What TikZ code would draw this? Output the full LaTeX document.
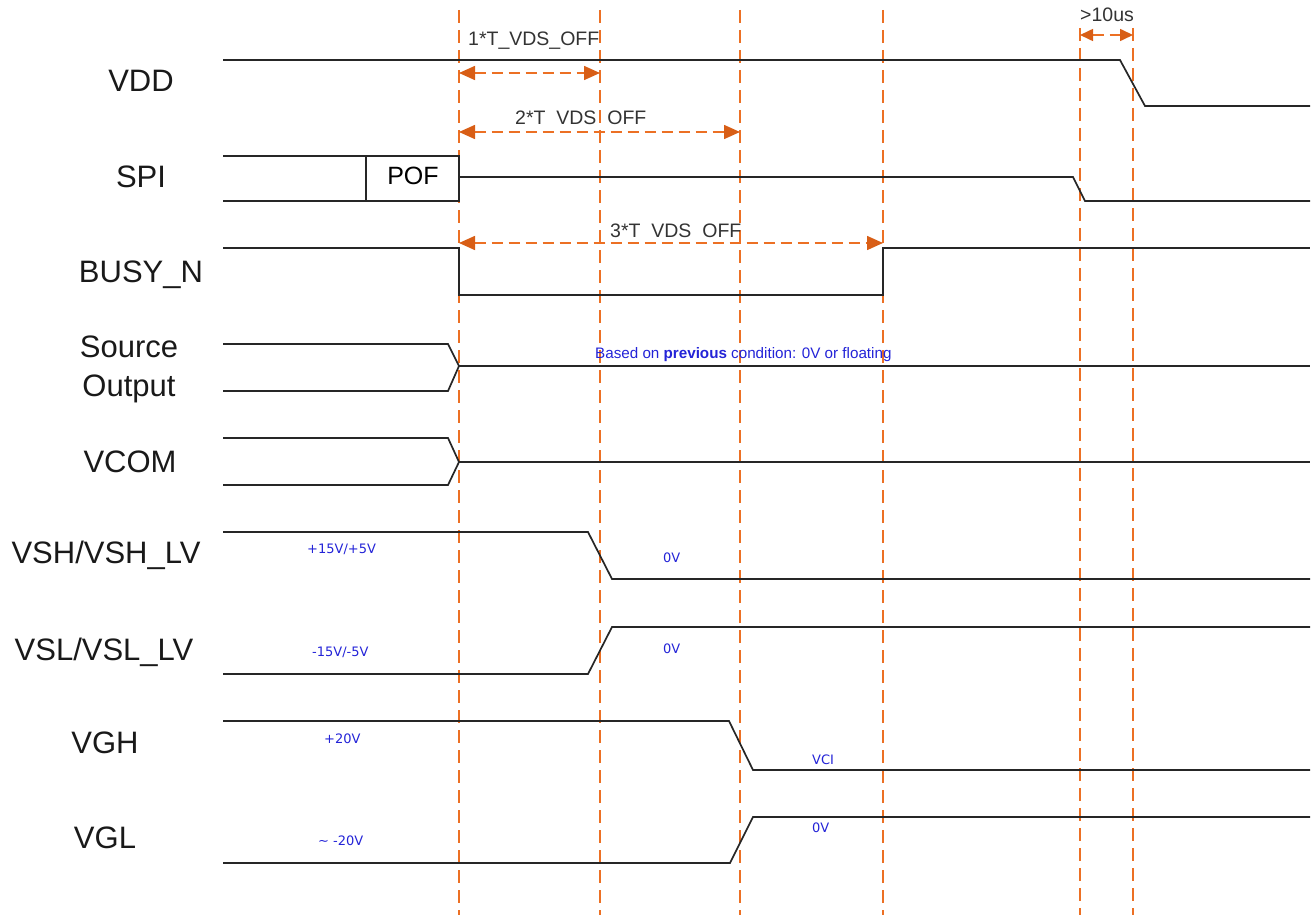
\documentclass[tikz,border=0pt]{standalone}
\usepackage{fontspec}
\setmainfont{Liberation Sans}
\newfontfamily\dvfont{DejaVu Sans}
\usetikzlibrary{arrows.meta}
\definecolor{org}{RGB}{236,112,36}
\definecolor{orgdk}{RGB}{216,94,22}
\definecolor{lblue}{RGB}{35,35,215}
\begin{document}
\begin{tikzpicture}[x=1pt,y=-1pt,
  sig/.style={line width=1.7pt, black!85},
  guide/.style={org, line width=1.6pt, dash pattern=on 13pt off 7pt},
  dim/.style={org, line width=1.6pt, dash pattern=on 11pt off 6pt,
     {Triangle[length=16pt,width=14pt,color=orgdk]}-{Triangle[length=16pt,width=14pt,color=orgdk]}},
  sname/.style={font=\fontsize{31}{31}\selectfont, anchor=base, inner sep=0, text=black!90},
  tlabel/.style={font=\fontsize{19.5}{20}\selectfont, text=black!80, anchor=base west, inner sep=0},
  volt/.style={font=\dvfont\fontsize{13}{13}\selectfont, text=lblue, anchor=base west, inner sep=0}]

\useasboundingbox (0,0) rectangle (1315,915);

% vertical dashed guides
\coordinate (aT) at (459,10);  \coordinate (aB) at (459,915);
\coordinate (bT) at (600,10);  \coordinate (bB) at (600,915);
\coordinate (cT) at (740,10);  \coordinate (cB) at (740,915);
\coordinate (dT) at (883,10);  \coordinate (dB) at (883,915);
\coordinate (eT) at (1080,28); \coordinate (eB) at (1080,915);
\coordinate (fT) at (1133,28); \coordinate (fB) at (1133,915);
\draw[guide] (aT) -- (aB);
\draw[guide] (bT) -- (bB);
\draw[guide] (cT) -- (cB);
\draw[guide] (dT) -- (dB);
\draw[guide] (eT) -- (eB);
\draw[guide] (fT) -- (fB);

% dimension arrow ends
\coordinate (d1a) at (459,73);  \coordinate (d1b) at (600,73);
\coordinate (d2a) at (459,132); \coordinate (d2b) at (740,132);
\coordinate (d3a) at (459,243); \coordinate (d3b) at (883,243);
\coordinate (d4a) at (1080,35); \coordinate (d4b) at (1133,35);
\draw[dim] (d1a) -- (d1b);
\draw[dim] (d2a) -- (d2b);
\draw[dim] (d3a) -- (d3b);
\draw[dim, {Triangle[length=13pt,width=12pt,color=orgdk]}-{Triangle[length=13pt,width=12pt,color=orgdk]}] (d4a) -- (d4b);

\node[tlabel] (t1) at (468,46) {1*T\_VDS\_OFF};
\node[tlabel] (t2) at (515,125) {2*T \kern0.28em VDS \kern0.28em OFF};
\node[tlabel] (t3) at (610,237) {3*T \kern0.28em VDS \kern0.28em OFF};
\node[tlabel] (t4) at (1080,22) {>10us};

% signal names
\node[sname] (nVDD) at (141,92) {VDD};
\node[sname] (nSPI) at (141,187) {SPI};
\node[sname] (nBUSY) at (141,282) {BUSY\_N};
\node[sname] (nSrc) at (129,357) {Source};
\node[sname] (nOut) at (129,396) {Output};
\node[sname] (nVCOM) at (130,472) {VCOM};
\node[sname] (nVSH) at (106,563) {VSH/VSH\_LV};
\node[sname] (nVSL) at (104,660) {VSL/VSL\_LV};
\node[sname] (nVGH) at (105,753) {VGH};
\node[sname] (nVGL) at (105,848) {VGL};

% VDD
\draw[sig] (223,60) -- (1120,60) -- (1145,106) -- (1310,106);
% SPI
\draw[sig] (223,156) -- (459,156) -- (459,201) -- (223,201);
\draw[sig] (366,156) -- (366,201);
\node[font=\fontsize{25}{25}\selectfont, anchor=base, inner sep=0] (pof) at (413,185) {POF};
\draw[sig] (459,177) -- (1073,177) -- (1085,201) -- (1310,201);
% BUSY_N
\draw[sig] (223,248) -- (459,248) -- (459,295) -- (883,295) -- (883,248) -- (1310,248);
% Source output
\draw[sig] (223,344) -- (448,344) -- (459,366) -- (448,391) -- (223,391);
\draw[sig] (459,366) -- (1310,366);
\node[font=\fontsize{15.2}{15}\selectfont, text=lblue, anchor=base west, inner sep=0] (based) at (595,358)
  {Based on \textbf{previous} condition: 0V or floating};
% VCOM
\draw[sig] (223,438) -- (448,438) -- (459,462) -- (448,485) -- (223,485);
\draw[sig] (459,462) -- (1310,462);
% VSH
\draw[sig] (223,532) -- (588,532) -- (612,579) -- (1310,579);
% VSL
\draw[sig] (223,674) -- (588,674) -- (612,627) -- (1310,627);
% VGH
\draw[sig] (223,721) -- (729,721) -- (753,770) -- (1310,770);
% VGL
\draw[sig] (223,863) -- (730,863) -- (753,817) -- (1310,817);

% voltage labels
\node[volt] (v1) at (307,553) {+15V/+5V};
\node[volt] (v2) at (663,562) {0V};
\node[volt] (v3) at (312,656) {-15V/-5V};
\node[volt] (v4) at (663,653) {0V};
\node[volt] (v5) at (324,743) {+20V};
\node[volt] (v6) at (812,764) {VCI};
\node[volt] (v7) at (318,845) {\textasciitilde{} -20V};
\node[volt] (v8) at (812,832) {0V};
\end{tikzpicture}
\end{document}
